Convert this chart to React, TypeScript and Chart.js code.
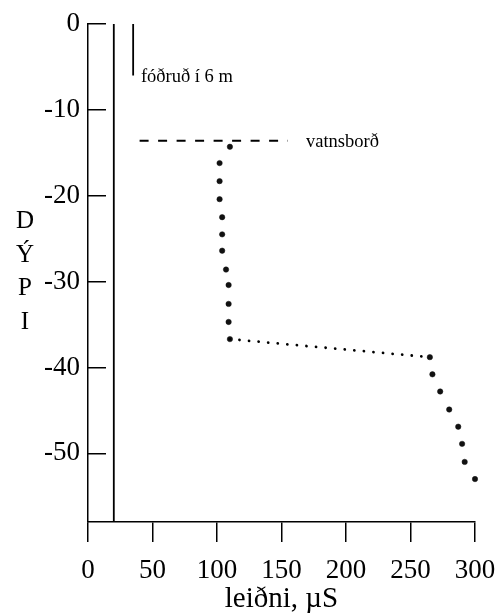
import React, { useEffect, useRef } from "react";
import { Chart, registerables } from "chart.js";

Chart.register(...registerables);

// ---- data ----
const upperDepth = [-14.3, -16.2, -18.3, -20.4, -22.5, -24.5, -26.4, -28.6, -30.4, -32.6, -34.7, -36.7];
const upperCond = [110, 102, 102, 102, 104, 104, 104, 107, 109, 109, 109, 110];
const lowerDepth = [-38.8, -40.8, -42.8, -44.9, -46.9, -48.9, -51.0, -53.0];
const lowerCond = [265, 267, 273, 280, 287, 290, 292, 300];

const casingCond = 20;
const casingDepths = [0, -58];
const linerCond = 35;
const linerDepths = [0, -6];
const waterLevel = -13.6;
const waterLineCond = [40, 155];

const xTicks = [0, 50, 100, 150, 200, 250, 300];
const yTicks = [0, -10, -20, -30, -40, -50];
const xTitle = "leiðni, µS";
const yTitleLetters = ["D", "Ý", "P", "I"];
const linerLabel = "fóðruð í 6 m";
const linerLabelAt = [41, -6.2];
const waterLabel = "vatnsborð";
const waterLabelAt = [169, -13.8];

const FONT = '"Liberation Serif", "Times New Roman", serif';

const textPlugin = {
  id: "annotText",
  afterDraw(chart: any) {
    const { ctx, scales, chartArea } = chart;
    const x = scales.x;
    const y = scales.y;
    ctx.save();
    ctx.fillStyle = "#000";
    ctx.textBaseline = "middle";
    ctx.textAlign = "left";
    ctx.font = `18.5px ${FONT}`;
    ctx.fillText(linerLabel, x.getPixelForValue(linerLabelAt[0]), y.getPixelForValue(linerLabelAt[1]));
    ctx.fillText(waterLabel, x.getPixelForValue(waterLabelAt[0]), y.getPixelForValue(waterLabelAt[1]));
    // stacked y title
    ctx.font = `25px ${FONT}`;
    ctx.textAlign = "center";
    ctx.textBaseline = "alphabetic";
    const mid = (chartArea.top + chartArea.bottom) / 2 - 3;
    const step = 33.5;
    yTitleLetters.forEach((ch, i) => {
      const cy = mid + (i - (yTitleLetters.length - 1) / 2) * step;
      ctx.fillText(ch, 25, cy + 8.5);
    });
    ctx.restore();
  },
};

export default function App() {
  const ref = useRef<HTMLCanvasElement | null>(null);

  useEffect(() => {
    if (!ref.current) return;
    const black = "#000";
    const chart = new Chart(ref.current, {
      type: "scatter",
      data: {
        datasets: [
          {
            data: casingDepths.map((d) => ({ x: casingCond, y: d })),
            showLine: true,
            borderColor: black,
            borderWidth: 1.8,
            pointRadius: 0,
            clip: false,
          } as any,
          {
            data: linerDepths.map((d) => ({ x: linerCond, y: d })),
            showLine: true,
            borderColor: black,
            borderWidth: 1.8,
            pointRadius: 0,
            clip: false,
          },
          {
            data: waterLineCond.map((c) => ({ x: c, y: waterLevel })),
            showLine: true,
            borderColor: black,
            borderWidth: 1.8,
            borderDash: [9, 9.5],
            pointRadius: 0,
            clip: false,
          },
          {
            data: [
              { x: upperCond[upperCond.length - 1], y: upperDepth[upperDepth.length - 1] },
              { x: lowerCond[0], y: lowerDepth[0] },
            ],
            showLine: true,
            borderColor: black,
            borderWidth: 2.8,
            borderDash: [0.01, 9.6],
            borderCapStyle: "round",
            pointRadius: 0,
            clip: false,
          },
          {
            data: upperCond.map((c, i) => ({ x: c, y: upperDepth[i] })),
            showLine: false,
            pointRadius: 2.7,
            pointBackgroundColor: "#111",
            pointBorderColor: "#111",
            pointBorderWidth: 0.5,
            clip: false,
          },
          {
            data: lowerCond.map((c, i) => ({ x: c, y: lowerDepth[i] })),
            showLine: false,
            pointRadius: 2.7,
            pointBackgroundColor: "#111",
            pointBorderColor: "#111",
            pointBorderWidth: 0.5,
            clip: false,
          },
        ],
      },
      options: {
        animation: false,
        responsive: false,
        devicePixelRatio: 1,
        layout: { padding: { left: 0, top: 24, right: 28, bottom: 0 } },
        plugins: { legend: { display: false }, tooltip: { enabled: false } },
        scales: {
          x: {
            type: "linear",
            min: 0,
            max: 300,
            afterBuildTicks: (s: any) => {
              s.ticks = xTicks.map((v) => ({ value: v }));
            },
            afterFit: (s: any) => {
              s.height = 93;
              s.paddingLeft = 0;
              s.paddingRight = 0;
            },
            ticks: {
              font: { family: FONT, size: 27 },
              color: black,
              padding: 13,
              maxRotation: 0,
              autoSkip: false,
            },
            grid: { drawOnChartArea: false, tickLength: 20, color: black, lineWidth: 1.5 },
            border: { color: black, width: 1.5 },
            title: {
              display: true,
              text: xTitle,
              font: { family: FONT, size: 29 },
              color: black,
              padding: { top: 0, bottom: -2 },
            },
          },
          y: {
            type: "linear",
            min: -58,
            max: 0,
            afterBuildTicks: (s: any) => {
              s.ticks = yTicks.map((v) => ({ value: v }));
            },
            afterFit: (s: any) => {
              s.width = 88;
              s.paddingTop = 0;
              s.paddingBottom = 0;
            },
            ticks: {
              font: { family: FONT, size: 27 },
              color: black,
              padding: 26,
              autoSkip: false,
            },
            grid: { drawOnChartArea: false, tickLength: -18, color: black, lineWidth: 1.5 },
            border: { color: black, width: 1.5 },
          },
        },
      } as any,
      plugins: [textPlugin],
    });
    return () => chart.destroy();
  }, []);

  return (
    <canvas
      ref={ref}
      width={503}
      height={615}
      style={{ position: "absolute", left: 0, top: 0, width: 503, height: 615, background: "#fff" }}
    />
  );
}
